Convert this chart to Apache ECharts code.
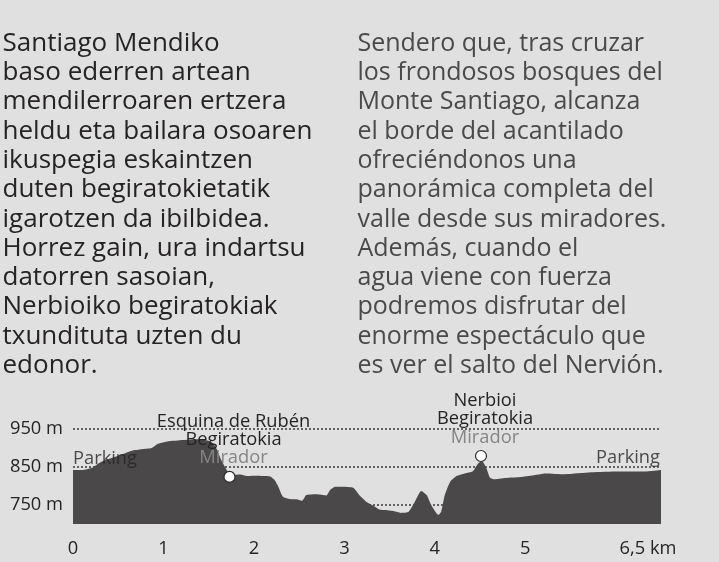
<!DOCTYPE html>
<html>
<head>
<meta charset="utf-8">
<script src="https://cdn.jsdelivr.net/npm/echarts@6/dist/echarts.min.js"></script>
<style>
html,body{margin:0;padding:0;background:#e0e0e0;}
#chart{width:719px;height:562px;}
</style>
</head>
<body>
<div id="chart"></div>
<script>
// ---- text ----
const basqueLines = ['Santiago Mendiko','baso ederren artean','mendilerroaren ertzera','heldu eta bailara osoaren','ikuspegia eskaintzen','duten begiratokietatik','igarotzen da ibilbidea.','Horrez gain, ura indartsu','datorren sasoian,','Nerbioiko begiratokiak','txundituta uzten du','edonor.'];
const spanishLines = ['Sendero que, tras cruzar','los frondosos bosques del','Monte Santiago, alcanza','el borde del acantilado','ofreciéndonos una','panorámica completa del','valle desde sus miradores.','Además, cuando el','agua viene con fuerza','podremos disfrutar del','enorme espectáculo que','es ver el salto del Nervión.'];

// ---- elevation profile ----
const distKm = [0.00,0.10,0.21,0.30,0.46,0.65,0.76,0.87,0.93,1.04,1.22,1.40,1.53,1.59,1.64,1.70,1.73,1.77,1.85,1.92,1.99,2.18,2.23,2.27,2.32,2.40,2.47,2.53,2.56,2.58,2.69,2.80,2.84,2.90,2.99,3.10,3.17,3.25,3.32,3.39,3.48,3.56,3.63,3.71,3.78,3.85,3.91,3.96,4.04,4.07,4.11,4.17,4.24,4.33,4.42,4.48,4.52,4.57,4.61,4.66,4.81,4.96,5.11,5.22,5.44,5.73,6.03,6.32,6.50];
const elevM  = [842,842,848,862,876,893,897,900,910,917,921,923,916,897,868,842,828,829,830,826,827,825,815,798,772,766,765,761,770,776,778,775,789,798,798,795,775,757,748,738,736,733,729,732,759,787,776,750,724,732,776,811,826,833,839,860,866,847,822,818,822,824,829,833,831,836,838,838,842];

// ---- viewpoints (miradores) ----
const viewpointKm = [1.73, 4.51];
const viewpointM = [824, 879];
const viewpointNames = [['Esquina de Rubén','Begiratokia'],['Nerbioi','Begiratokia']];
const viewpointSub = 'Mirador';

// ---- parkings ----
const parkingKm = [0, 6.5];
const parkingM = [842, 842];
const parkingLabel = 'Parking';

// ---- axes ----
const yTicks = [750, 850, 950];
const xTicks = [0, 1, 2, 3, 4, 5, 6.5];
const xLastLabel = '6,5 km';

const FONT = '"Open Sans"';
const DARK = '#262324';

const profile = distKm.map((d, i) => [d, elevM[i]]);

const graphics = [];
basqueLines.forEach((t, i) => graphics.push({
  type: 'text', x: 2.5, y: 43.3 + 29.3 * i, silent: true,
  style: { text: t, font: '26px ' + FONT, fill: DARK, textAlign: 'left', textVerticalAlign: 'middle' }
}));
spanishLines.forEach((t, i) => graphics.push({
  type: 'text', x: 357.5, y: 43.6 + 29.3 * i, silent: true,
  style: { text: t, font: '25px ' + FONT, fill: '#4a4a4a', textAlign: 'left', textVerticalAlign: 'middle' }
}));

const chart = echarts.init(document.getElementById('chart'), null, { renderer: 'canvas' });
chart.setOption({
  backgroundColor: '#e0e0e0',
  animation: false,
  textStyle: { fontFamily: FONT },
  graphic: graphics,
  grid: { left: 73, right: 58, top: 410, bottom: 38, outerBoundsMode: 'none' },
  xAxis: {
    type: 'value', min: 0, max: 6.5, interval: 0.5,
    axisLine: { show: false }, axisTick: { show: false }, splitLine: { show: false },
    axisLabel: {
      margin: 16, fontSize: 18.3, color: DARK, fontFamily: FONT,
      formatter: v => {
        if (!xTicks.includes(v)) return '';
        if (v === 6.5) return '{e|' + xLastLabel + '}';
        return String(v);
      },
      rich: { e: { fontSize: 18.3, color: DARK, fontFamily: FONT, padding: [0, 26, 0, 0] } }
    }
  },
  yAxis: {
    type: 'value', min: 700, max: 1000, interval: 50,
    axisLine: { show: false }, axisTick: { show: false }, splitLine: { show: false },
    axisLabel: {
      margin: 10, fontSize: 18.3, color: DARK, fontFamily: FONT,
      formatter: v => yTicks.includes(v) ? v + ' m' : ''
    }
  },
  series: [
    {
      type: 'line', data: profile, symbol: 'none', silent: true, z: 1,
      lineStyle: { opacity: 0, width: 0 },
      markLine: {
        z: 1, silent: true, symbol: ['none', 'none'], label: { show: false },
        lineStyle: { type: [2, 2], color: '#555', width: 1.8 },
        data: yTicks.map(v => ({ yAxis: v }))
      }
    },
    {
      type: 'line', data: profile, symbol: 'none', smooth: 0.2, silent: true, z: 2,
      lineStyle: { width: 0, color: '#4a4849' },
      areaStyle: { color: '#4a4849', opacity: 1 }
    },
    {
      type: 'scatter', z: 4, silent: true,
      data: viewpointKm.map((d, i) => [d, viewpointM[i]]),
      symbolSize: 11,
      itemStyle: { color: '#ffffff', borderColor: '#2b2b2b', borderWidth: 1.2, opacity: 1 },
      label: {
        show: true, position: 'top', distance: 3, offset: [4, 0],
        formatter: p => viewpointNames[p.dataIndex].map(l => '{d|' + l + '}').join('\n') + '\n{g|' + viewpointSub + '}',
        rich: {
          d: { fontSize: 18.3, lineHeight: 18, color: DARK, fontFamily: FONT },
          g: { fontSize: 18.3, lineHeight: 19, color: '#858585', fontFamily: FONT }
        }
      }
    },
    {
      type: 'scatter', z: 4, silent: true, symbolSize: 0.1,
      itemStyle: { color: 'rgba(0,0,0,0)' },
      data: parkingKm.map((d, i) => ({
        value: [d, parkingM[i]],
        label: { align: i === 0 ? 'left' : 'right', offset: i === 0 ? [0, -11] : [-1, -12] }
      })),
      label: {
        show: true, position: 'inside', verticalAlign: 'middle',
        formatter: parkingLabel, fontSize: 18.3, color: DARK, fontFamily: FONT
      }
    }
  ]
});
</script>
</body>
</html>
